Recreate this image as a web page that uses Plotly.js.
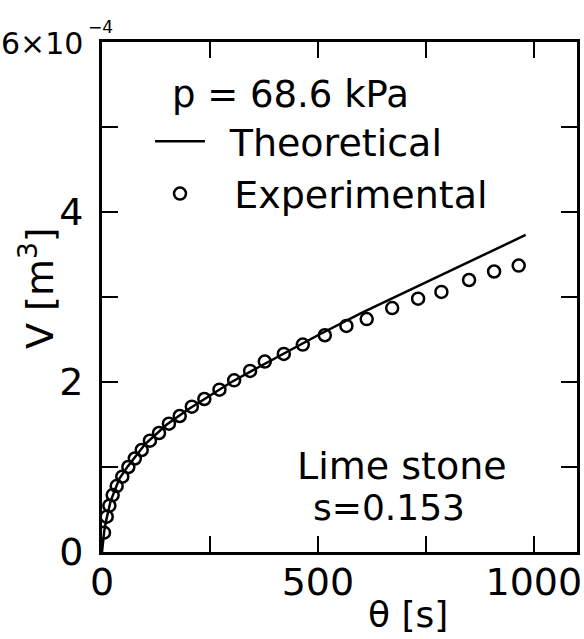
<!DOCTYPE html>
<html><head><meta charset="utf-8">
<script src="https://cdn.plot.ly/plotly-3.0.1.min.js"></script>
<style>html,body{margin:0;padding:0;background:#fff;}</style>
</head><body>
<div id="chart" style="width:584px;height:639px"></div>
<script>
// Filtration volume V (in units of 1e-4 m^3) vs time theta [s]
const thetaExp = [4.6, 10.9, 17, 24.7, 34, 47, 61, 76, 92, 111, 132, 155, 180, 208, 237, 272, 306, 343, 377, 421, 465, 516, 566, 613, 672, 732, 786, 850, 908, 965];
const vExp     = [0.227, 0.415, 0.545, 0.67, 0.776, 0.886, 1.00, 1.10, 1.20, 1.31, 1.40, 1.51, 1.60, 1.71, 1.80, 1.91, 2.02, 2.13, 2.24, 2.33, 2.44, 2.55, 2.66, 2.74, 2.87, 2.98, 3.06, 3.20, 3.30, 3.37];
const thetaTheory = [0, 5, 10, 20, 40, 60, 100, 150, 200, 250, 300, 350, 400, 450, 500, 600, 700, 800, 900, 981];
const vTheory     = [0, 0.24, 0.38, 0.6, 0.86, 1.01, 1.27, 1.50, 1.68, 1.84, 2.0, 2.14, 2.28, 2.42, 2.55, 2.81, 3.05, 3.29, 3.53, 3.73];
const seriesNames = ["Theoretical", "Experimental"];
const xTickVals = [0, 500, 1000];
const xTickText = ["0", "500", "1000"];
const yTickVals = [0, 2, 4];
const yTickText = ["0", "2", "4"];
const yTopLabel = ["6×10", "−4"];   // top y tick: 6×10^-4
const xTitle = "θ [s]";
const yTitle = "V [m<sup>3</sup>]";
const noteText = ["p = 68.6 kPa", "Lime stone", "s=0.153"];

const FONT = "DejaVu Sans";
const BIG = 38;

const traces = [
  {x: thetaTheory, y: vTheory, type: "scatter", mode: "lines", name: "\u00a0\u2009" + seriesNames[0],
   line: {color: "#000", width: 2.5}},
  {x: thetaExp, y: vExp, type: "scatter", mode: "markers", name: "\u00a0\u00a0" + seriesNames[1],
   marker: {symbol: "circle-open", size: 12, color: "#000", line: {color: "#000", width: 2.5}}}
];

const axisCommon = {
  showgrid: false, zeroline: false, showline: true, linecolor: "#000", linewidth: 3,
  mirror: "ticks", ticks: "inside", ticklen: 16, tickwidth: 2, tickcolor: "#000",
  tickfont: {family: FONT, size: BIG, color: "#000"}
};

function txt(t, x, y, size, extra) {
  return Object.assign({text: t, xref: "paper", yref: "paper", x: x, y: y, xanchor: "center", yanchor: "middle",
    showarrow: false, font: {family: FONT, size: size, color: "#000"}}, extra || {});
}
// pixel helpers for paper coordinates (plot area: x 102..577, y 42..552)
const px = v => (v - 102) / 475;
const py = v => (552 - v) / 510;

const layout = {
  width: 584, height: 639,
  margin: {l: 102, r: 7, t: 42, b: 87},
  paper_bgcolor: "#fff", plot_bgcolor: "#fff",
  font: {family: FONT, color: "#000"},
  xaxis: Object.assign({}, axisCommon, {
    range: [0, 1100], tickmode: "array", tickvals: xTickVals, ticktext: xTickText, ticklabelstandoff: -6,
    minor: {dtick: 250, ticks: "inside", ticklen: 16, tickwidth: 2, tickcolor: "#000", showgrid: false}
  }),
  yaxis: Object.assign({}, axisCommon, {
    range: [0, 6], tickmode: "array", tickvals: yTickVals, ticktext: yTickText, ticklabelstandoff: 8,
    minor: {dtick: 1, ticks: "inside", ticklen: 16, tickwidth: 2, tickcolor: "#000", showgrid: false}
  }),
  showlegend: true,
  legend: {x: px(150), y: py(110), xanchor: "left", yanchor: "top", bgcolor: "rgba(0,0,0,0)",
           borderwidth: 0, font: {family: FONT, size: BIG, color: "#000"}, itemwidth: 50, tracegroupgap: 0},
  annotations: [
    txt(noteText[0], px(290), py(95), 37),
    txt(noteText[1], px(402), py(466), BIG),
    txt(noteText[2], px(389), py(507), 36),
    txt(yTitle, px(37), py(288), BIG, {textangle: -90}),
    txt(xTitle, px(408), py(614), 36),
    txt(yTopLabel[0], px(85), py(44), 30, {xanchor: "right"}),
    txt(yTopLabel[1], px(86), py(27), 17, {xanchor: "left"})
  ]
};

Plotly.newPlot("chart", traces, layout, {staticPlot: true, displayModeBar: false});
</script>
</body></html>
